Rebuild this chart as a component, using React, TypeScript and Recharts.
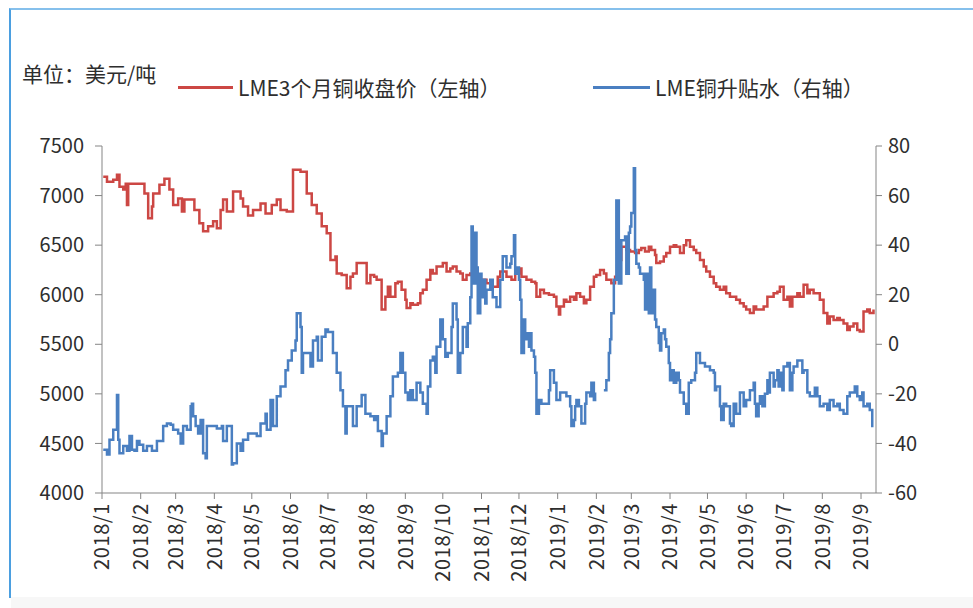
import React from 'react';
import { LineChart, Line, XAxis, YAxis } from 'recharts';

// LME 3-month copper close, USD/t (left axis)
const copperDates = [
  '2018-01-02', '2018-01-05', '2018-01-10', '2018-01-13', '2018-01-15', '2018-01-18', '2018-01-20', '2018-01-21',
  '2018-01-22', '2018-01-29', '2018-02-02', '2018-02-04', '2018-02-07', '2018-02-10', '2018-02-11', '2018-02-16',
  '2018-02-20', '2018-02-24', '2018-02-27', '2018-03-03', '2018-03-06', '2018-03-08', '2018-03-14', '2018-03-16',
  '2018-03-20', '2018-03-23', '2018-03-27', '2018-03-31', '2018-04-03', '2018-04-06', '2018-04-08', '2018-04-11',
  '2018-04-16', '2018-04-22', '2018-04-24', '2018-04-28', '2018-05-02', '2018-05-08', '2018-05-12', '2018-05-17',
  '2018-05-21', '2018-05-24', '2018-05-29', '2018-06-03', '2018-06-09', '2018-06-11', '2018-06-14', '2018-06-18',
  '2018-06-22', '2018-06-26', '2018-06-30', '2018-07-03', '2018-07-07', '2018-07-08', '2018-07-12', '2018-07-16',
  '2018-07-19', '2018-07-21', '2018-07-24', '2018-07-29', '2018-08-01', '2018-08-04', '2018-08-07', '2018-08-09',
  '2018-08-13', '2018-08-16', '2018-08-18', '2018-08-20', '2018-08-24', '2018-08-26', '2018-08-29', '2018-09-01',
  '2018-09-02', '2018-09-05', '2018-09-07', '2018-09-11', '2018-09-13', '2018-09-15', '2018-09-18', '2018-09-21',
  '2018-09-23', '2018-09-26', '2018-09-29', '2018-10-01', '2018-10-04', '2018-10-07', '2018-10-09', '2018-10-12',
  '2018-10-15', '2018-10-17', '2018-10-20', '2018-10-23', '2018-10-25', '2018-10-31', '2018-11-05', '2018-11-10',
  '2018-11-14', '2018-11-16', '2018-11-21', '2018-11-25', '2018-11-28', '2018-12-01', '2018-12-03', '2018-12-07',
  '2018-12-11', '2018-12-14', '2018-12-15', '2018-12-18', '2018-12-21', '2018-12-25', '2018-12-29', '2018-12-31',
  '2019-01-02', '2019-01-03', '2019-01-06', '2019-01-08', '2019-01-11', '2019-01-14', '2019-01-16', '2019-01-19',
  '2019-01-22', '2019-01-24', '2019-01-27', '2019-01-30', '2019-02-01', '2019-02-04', '2019-02-07', '2019-02-09',
  '2019-02-13', '2019-02-16', '2019-02-19', '2019-02-21', '2019-02-25', '2019-02-28', '2019-03-04', '2019-03-07',
  '2019-03-09', '2019-03-12', '2019-03-15', '2019-03-17', '2019-03-20', '2019-03-21', '2019-03-24', '2019-03-27',
  '2019-03-29', '2019-04-01', '2019-04-04', '2019-04-06', '2019-04-09', '2019-04-12', '2019-04-14', '2019-04-17',
  '2019-04-20', '2019-04-22', '2019-04-25', '2019-04-28', '2019-04-30', '2019-05-03', '2019-05-06', '2019-05-08',
  '2019-05-11', '2019-05-14', '2019-05-16', '2019-05-19', '2019-05-22', '2019-05-24', '2019-05-27', '2019-05-30',
  '2019-06-01', '2019-06-04', '2019-06-07', '2019-06-09', '2019-06-12', '2019-06-15', '2019-06-18', '2019-06-20',
  '2019-06-23', '2019-06-26', '2019-06-28', '2019-07-01', '2019-07-04', '2019-07-06', '2019-07-08', '2019-07-12',
  '2019-07-14', '2019-07-17', '2019-07-20', '2019-07-22', '2019-07-25', '2019-07-28', '2019-07-30', '2019-08-02',
  '2019-08-05', '2019-08-07', '2019-08-10', '2019-08-13', '2019-08-15', '2019-08-18', '2019-08-21', '2019-08-23',
  '2019-08-26', '2019-08-29', '2019-08-31', '2019-09-03', '2019-09-06', '2019-09-08', '2019-09-11',
];
const copperClose = [
  7190, 7140, 7160, 7210, 7090, 7060, 7120, 6905,
  7120, 7120, 7120, 7020, 6770, 6890, 7020, 7110,
  7170, 7060, 6905, 6970, 6840, 6960, 6960, 6855,
  6720, 6640, 6690, 6740, 6670, 6855, 6960, 6840,
  7040, 6970, 6890, 6800, 6855, 6920, 6820, 6905,
  6960, 6855, 6840, 7260, 7240, 7240, 7020, 6905,
  6820, 6690, 6620, 6350, 6385, 6215, 6200, 6065,
  6180, 6215, 6320, 6320, 6115, 6200, 6180, 6150,
  5850, 5980, 6080, 5980, 6115, 6130, 6050, 5950,
  5865, 5915, 5900, 5915, 6015, 6050, 6150, 6250,
  6215, 6285, 6285, 6320, 6235, 6265, 6285, 6235,
  6215, 6150, 6200, 6215, 6180, 6150, 6115, 6080,
  6180, 6235, 6180, 6150, 6215, 6265, 6180, 6150,
  6130, 6115, 5980, 6050, 6015, 6000, 5980, 5880,
  5800, 5880, 5950, 5930, 5980, 5950, 6015, 5980,
  5915, 5950, 6080, 6180, 6200, 6250, 6215, 6150,
  6115, 6180, 6350, 6485, 6450, 6435, 6420, 6450,
  6470, 6435, 6485, 6450, 6400, 6320, 6335, 6385,
  6420, 6485, 6500, 6485, 6420, 6500, 6550, 6485,
  6450, 6420, 6350, 6285, 6235, 6180, 6115, 6080,
  6050, 6080, 6015, 5980, 5980, 5950, 5915, 5880,
  5850, 5815, 5880, 5850, 5850, 5880, 5980, 5980,
  6015, 6030, 6080, 5950, 5980, 5880, 5980, 6015,
  5980, 6100, 6015, 6050, 6015, 6015, 5950, 5815,
  5710, 5780, 5745, 5765, 5745, 5710, 5645, 5680,
  5710, 5645, 5630, 5830, 5850, 5815, 5850,
];

// LME copper cash-3M spread, USD/t (right axis); null marks a break in the series
const spreadDates = [
  '2018-01-02', '2018-01-05', '2018-01-07', '2018-01-10', '2018-01-13', '2018-01-14', '2018-01-15', '2018-01-18',
  '2018-01-21', '2018-01-23', '2018-01-25', '2018-01-27', '2018-01-29', '2018-01-31', '2018-02-03', '2018-02-06',
  '2018-02-10', '2018-02-14', '2018-02-19', '2018-02-22', '2018-02-25', '2018-02-27', '2018-03-03', '2018-03-05',
  '2018-03-07', '2018-03-10', '2018-03-13', '2018-03-14', '2018-03-15', '2018-03-17', '2018-03-19', '2018-03-21',
  '2018-03-23', '2018-03-25', '2018-03-26', '2018-03-30', '2018-04-03', '2018-04-07', '2018-04-08', '2018-04-11',
  '2018-04-14', '2018-04-15', '2018-04-16', '2018-04-19', '2018-04-22', '2018-04-24', '2018-04-28', '2018-05-02',
  '2018-05-05', '2018-05-08', '2018-05-12', '2018-05-13', '2018-05-16', '2018-05-18', '2018-05-21', '2018-05-24',
  '2018-05-28', '2018-05-30', '2018-06-02', '2018-06-05', '2018-06-06', '2018-06-09', '2018-06-10', '2018-06-11',
  '2018-06-14', '2018-06-17', '2018-06-19', '2018-06-22', '2018-06-23', '2018-06-26', '2018-06-29', '2018-07-01',
  '2018-07-05', '2018-07-08', '2018-07-11', '2018-07-13', '2018-07-15', '2018-07-16', '2018-07-19', '2018-07-21',
  '2018-07-24', '2018-07-28', '2018-07-31', '2018-08-04', '2018-08-07', '2018-08-09', '2018-08-10', '2018-08-13',
  '2018-08-14', '2018-08-17', '2018-08-20', '2018-08-22', '2018-08-26', '2018-08-28', '2018-08-30', '2018-09-01',
  '2018-09-03', '2018-09-05', '2018-09-07', '2018-09-10', '2018-09-13', '2018-09-15', '2018-09-18', '2018-09-19',
  '2018-09-21', '2018-09-23', '2018-09-25', '2018-09-26', '2018-09-29', '2018-10-01', '2018-10-03', '2018-10-05',
  '2018-10-08', '2018-10-09', '2018-10-12', '2018-10-13', '2018-10-15', '2018-10-17', '2018-10-20', '2018-10-21',
  '2018-10-23', '2018-10-24', '2018-10-25', '2018-10-27', '2018-10-28', '2018-10-29', '2018-10-31', '2018-11-01',
  '2018-11-02', '2018-11-04', '2018-11-05', '2018-11-08', '2018-11-10', '2018-11-13', '2018-11-16', '2018-11-18',
  '2018-11-21', '2018-11-24', '2018-11-25', '2018-11-27', '2018-11-28', '2018-11-29', '2018-12-01', '2018-12-02',
  '2018-12-03', '2018-12-05', '2018-12-06', '2018-12-07', '2018-12-09', '2018-12-10', '2018-12-11', '2018-12-13',
  '2018-12-14', '2018-12-15', '2018-12-17', '2018-12-19', '2018-12-22', '2018-12-25', '2018-12-26', '2018-12-29',
  '2018-12-31', '2019-01-03', '2019-01-06', '2019-01-08', '2019-01-11', '2019-01-12', '2019-01-14', '2019-01-15',
  '2019-01-16', '2019-01-18', '2019-01-20', '2019-01-23', '2019-01-24', '2019-01-27', '2019-01-28', '2019-01-30',
  '2019-01-31', '2019-02-03', '2019-02-07', '2019-02-09', '2019-02-11', '2019-02-12', '2019-02-13', '2019-02-15',
  '2019-02-17', '2019-02-19', '2019-02-21', '2019-02-24', '2019-02-25', '2019-02-27', '2019-02-28', '2019-03-01',
  '2019-03-03', '2019-03-04', '2019-03-05', '2019-03-07', '2019-03-08', '2019-03-09', '2019-03-11', '2019-03-12',
  '2019-03-13', '2019-03-15', '2019-03-16', '2019-03-17', '2019-03-19', '2019-03-20', '2019-03-21', '2019-03-23',
  '2019-03-24', '2019-03-25', '2019-03-27', '2019-03-28', '2019-03-29', '2019-03-31', '2019-04-01', '2019-04-02',
  '2019-04-04', '2019-04-06', '2019-04-08', '2019-04-09', '2019-04-12', '2019-04-14', '2019-04-16', '2019-04-18',
  '2019-04-21', '2019-04-22', '2019-04-25', '2019-04-29', '2019-05-03', '2019-05-06', '2019-05-07', '2019-05-08',
  '2019-05-11', '2019-05-12', '2019-05-14', '2019-05-16', '2019-05-19', '2019-05-20', '2019-05-22', '2019-05-24',
  '2019-05-27', '2019-05-30', '2019-06-01', '2019-06-04', '2019-06-07', '2019-06-08', '2019-06-09', '2019-06-11',
  '2019-06-12', '2019-06-14', '2019-06-16', '2019-06-18', '2019-06-19', '2019-06-20', '2019-06-23', '2019-06-24',
  '2019-06-26', '2019-06-27', '2019-06-28', '2019-06-30', '2019-07-01', '2019-07-04', '2019-07-06', '2019-07-08',
  '2019-07-09', '2019-07-12', '2019-07-14', '2019-07-16', '2019-07-17', '2019-07-20', '2019-07-22', '2019-07-25',
  '2019-07-26', '2019-07-28', '2019-07-30', '2019-08-02', '2019-08-05', '2019-08-07', '2019-08-10', '2019-08-13',
  '2019-08-15', '2019-08-18', '2019-08-21', '2019-08-23', '2019-08-26', '2019-08-27', '2019-08-29', '2019-08-31',
  '2019-09-02', '2019-09-03', '2019-09-06', '2019-09-08', '2019-09-10', '2019-09-11',
];
const spreadValues = [
  -42.5, -44.5, -38.5, -34.5, -20.5, -38.5, -44, -41,
  -43, -37, -42.5, -43, -39, -40.5, -43, -41,
  -43, -39, -33, -32, -32.5, -34.5, -36, -40,
  -33, -34.5, -25, -24, -29, -33, -36, -30.5,
  -44, -46, -33, -33, -34, -33, -39, -33,
  -33, -48.5, -48, -40, -43, -38.5, -36, -36,
  -37, -32, -28, -34.5, -22.5, -33, -21, -17,
  -10.5, -6.5, -2.5, 1.5, 12.5, 7, -11.5, -3.5,
  -3.5, -9, 1.5, 3, -6.5, 3, 6, 5,
  -3.5, -11.5, -18.5, -25, -36, -25, -25, -33,
  -25, -20.5, -28, -29, -30.5, -29, -35, -41,
  -36, -29, -21, -13, -11.5, -3.5, -11.5, -19.5,
  -22.5, -18.5, -22.5, -15.5, -19.5, -24, -28, -17,
  -6.5, -5, -11.5, -1, 10, 2, -5, -3.5,
  7, 16.5, 10, -11.5, -3.5, 7, -1, 8.5,
  19, 47.5, 24.5, 45, 31, 12.5, 28.5, 19,
  26, 16.5, 22, 26, 19, 15, 26, 35.5,
  31, 32.5, 35.5, 44, 28.5, 31, 26, 18,
  -3.5, 10, 2, 4.5, -1, 4.5, -2.5, -5,
  -11.5, -28, -22.5, -24, -24, -18.5, -10.5, -15.5,
  -22.5, -19.5, -19.5, -21, -25, -33, -30.5, -25,
  -22.5, -25, -32, -24, -19.5, -21, -15.5, -22.5,
  -19.5, null, -18.5, -14.5, -3.5, 2, 12.5, 26,
  58, 24.5, 42, 43.5, 28.5, 45, 47.5, 53,
  71, 38, 32.5, 31, 28.5, 28.5, 26, 14,
  28.5, 12.5, 31, 12.5, 22, 10, 7, 0.5,
  -2.5, 4.5, 6, 2, -1, -7.5, -14.5, -10.5,
  -15.5, -11.5, -14.5, -19.5, -24, -28, -15.5, -14.5,
  -11.5, -3.5, -7.5, -9, -10.5, -11.5, -18.5, -17,
  -25, -30.5, -24, -25, -32, -33, -24, -28,
  -19.5, -25, -22.5, -18.5, -15.5, -24, -29, -24,
  -21, -25, -20, -14.5, -19.5, -11.5, -17, -14.5,
  -10.5, -17, -11.5, -18.5, -9, -7.5, -18.5, -11.5,
  -9, -6.5, -6.5, -11.5, -10.5, -19.5, -21, -21,
  -17.5, -21, -25, -24, -26.5, -22.5, -25, -24,
  -26.5, -28, -21, -19.5, -19.5, -17, -21, -22.5,
  -19.5, -25, -24, -26.5, -33, -33,
];

const monthTicks = [
  '2018/1', '2018/2', '2018/3', '2018/4', '2018/5', '2018/6', '2018/7', '2018/8', '2018/9', '2018/10', '2018/11',
  '2018/12', '2019/1', '2019/2', '2019/3', '2019/4', '2019/5', '2019/6', '2019/7', '2019/8', '2019/9',
];
const priceTicks = [4000, 4500, 5000, 5500, 6000, 6500, 7000, 7500];
const spreadTicks = [-60, -40, -20, 0, 20, 40, 60, 80];

const ORIGIN = Date.UTC(2018, 0, 1);
const dayOf = (y: number, m: number, d: number) => (Date.UTC(y, m - 1, d) - ORIGIN) / 86400000;
const isoDay = (s: string) => {
  const [y, m, d] = s.split('-').map(Number);
  return dayOf(y, m, d);
};
const tickDays = monthTicks.map((t) => {
  const [y, m] = t.split('/').map(Number);
  return dayOf(y, m, 1);
});
const tickLabel: Record<number, string> = {};
tickDays.forEach((d, i) => (tickLabel[d] = monthTicks[i]));

const copperData = copperDates.map((s, i) => ({ day: isoDay(s), price: copperClose[i] }));
const spreadData = spreadDates.map((s, i) => ({ day: isoDay(s), spread: spreadValues[i] }));

const FONT = "'Noto Sans CJK SC', 'Noto Sans', sans-serif";
const AXIS = '#858585';
const TEXT = '#2e2e2e';
const RED = '#cc4744';
const BLUE = '#4a7fc1';

const MonthTick = (props: any) => {
  const { x, y, payload } = props;
  return (
    <text
      x={x}
      y={y}
      transform={`rotate(-90, ${x}, ${y})`}
      textAnchor="end"
      dy="0.36em"
      fill={TEXT}
      fontSize={20}
      letterSpacing={0.6}
      fontFamily={FONT}
    >
      {tickLabel[payload.value]}
    </text>
  );
};

export default function App() {
  return (
    <div style={{ position: 'absolute', left: 0, top: 0, width: 973, height: 608, background: '#fff', overflow: 'hidden' }}>
      <div
        style={{
          position: 'absolute', left: 9, top: 8, right: -4, bottom: 10,
          borderLeft: '2px solid #4b9fe0', borderTop: '2px solid #86c0ec',
        }}
      />
      <div style={{ position: 'absolute', left: 11, right: 0, top: 597, bottom: 0, background: '#f7f7f7' }} />

      <div style={{ position: 'absolute', left: 22, top: 59, fontFamily: FONT, fontSize: 21, color: TEXT, lineHeight: '28px' }}>
        单位：美元/吨
      </div>
      <div style={{ position: 'absolute', left: 178, top: 73, display: 'flex', alignItems: 'center', fontFamily: FONT, fontSize: 21, color: TEXT, lineHeight: '28px' }}>
        <span style={{ display: 'inline-block', width: 55, height: 3, background: RED, marginRight: 5 }} />
        LME3个月铜收盘价（左轴）
      </div>
      <div style={{ position: 'absolute', left: 593, top: 73, display: 'flex', alignItems: 'center', fontFamily: FONT, fontSize: 21, color: TEXT, lineHeight: '28px' }}>
        <span style={{ display: 'inline-block', width: 57, height: 3, background: BLUE, marginRight: 5 }} />
        LME铜升贴水（右轴）
      </div>

      <div style={{ position: 'absolute', left: 0, top: 0 }}>
        <LineChart width={973} height={608} margin={{ top: 146, right: 0, bottom: 25, left: 0 }}>
          <XAxis
            type="number"
            dataKey="day"
            domain={[0, 620]}
            ticks={tickDays}
            interval={0}
            tick={<MonthTick />}
            tickSize={6}
            tickMargin={4}
            height={90}
            stroke={AXIS}
            allowDataOverflow
          />
          <YAxis
            yAxisId="left"
            orientation="left"
            width={102}
            domain={[4000, 7500]}
            ticks={priceTicks}
            interval={0}
            tickSize={7}
            tickMargin={11}
            stroke={AXIS}
            tick={{ fill: TEXT, fontSize: 20, fontFamily: FONT }}
          />
          <YAxis
            yAxisId="right"
            orientation="right"
            width={97}
            domain={[-60, 80]}
            ticks={spreadTicks}
            interval={0}
            tickSize={6}
            tickMargin={6}
            stroke={AXIS}
            tick={{ fill: TEXT, fontSize: 20, fontFamily: FONT }}
          />
          <Line
            yAxisId="left"
            data={copperData}
            dataKey="price"
            type="stepAfter"
            stroke={RED}
            strokeWidth={2.5}
            dot={false}
            isAnimationActive={false}
          />
          <Line
            yAxisId="right"
            data={spreadData}
            dataKey="spread"
            type="stepAfter"
            stroke={BLUE}
            strokeWidth={2.5}
            dot={false}
            isAnimationActive={false}
          />
        </LineChart>
      </div>
    </div>
  );
}
